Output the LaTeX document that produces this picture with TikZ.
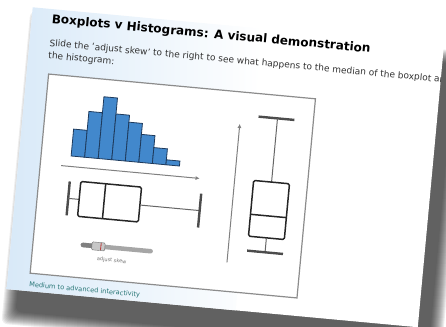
\documentclass[tikz,border=0pt]{standalone}
\usepackage{fontspec}
\setmainfont{DejaVu Sans}
\usepackage{tikz}
\usetikzlibrary{arrows.meta}
\definecolor{PageBlue}{RGB}{216,233,248}
\definecolor{HistBlue}{RGB}{66,136,204}
\definecolor{HistEdge}{RGB}{30,58,92}
\definecolor{LinkTeal}{RGB}{40,118,118}

\begin{document}
\begin{tikzpicture}[x=1pt,y=-1pt,
  txt/.style={inner sep=0pt,anchor=base west},
  bar/.style={fill=HistBlue,draw=HistEdge,line width=0.8pt},
  bx/.style={draw=black!85,line width=1.5pt,line join=round},
  whiskcap/.style={draw=black!70,line width=2.4pt},
  whisk/.style={draw=black!60,line width=1pt},
  axis/.style={draw=black!50,line width=1pt,-{Latex[length=4pt,width=4pt]}}]
\useasboundingbox (0,0) rectangle (446,326);
\begin{scope}[shift={(32.7,7.3)},rotate=-5.3,transform shape]
% shadow of the page
\foreach \r in {0,...,13} {
   \fill[black,opacity=0.065,rounded corners=6pt] (-2+\r,4+\r) rectangle (439-\r,318-\r);
}
\fill[white] (0,0) rectangle (413,283);
\shade[left color=PageBlue,right color=white] (0,0) rectangle (230,283);
\begin{scope}
\clip (0,0) rectangle (413,283);
\node[txt,font=\bfseries\fontsize{12}{14}\selectfont] (title) at (20,14)
   {Boxplots v Histograms: A visual demonstration};
\node[txt,font=\fontsize{9}{11}\selectfont,text=black!80] (intro1) at (20,37)
   {Slide the `adjust skew' to the right to see what happens to the median of the boxplot and};
\node[txt,font=\fontsize{9}{11}\selectfont,text=black!80] (intro2) at (20,49.5)
   {the histogram:};
% panel
\draw[fill=white,draw=black!45,line width=1.2pt] (22,65) rectangle (290,265);
% histogram
\foreach \i/\h in {0/27,1/46,2/62,3/46,4/39,5/28,6/16,7/5} {
   \draw[bar] (52+\i*13.6,144.5) rectangle ++(13.6,-\h);
}
\draw[axis] (43,155) -- (182,155);
% horizontal boxplot
\draw[whiskcap] (53,170) -- (53,204);
\draw[whisk] (53,187) -- (64,187);
\draw[bx,rounded corners=1.5pt] (64,169) rectangle (125,204);
\draw[bx] (89,169) -- (89,204);
\draw[whisk] (125,187) -- (185,187);
\draw[whiskcap] (185,170) -- (185,204);
% slider
\draw[line width=4.5pt,line cap=round,black!35] (72,232) -- (140,232);
\draw[line width=4.5pt,line cap=round,black!50] (72,232) -- (84,232);
\draw[fill=black!22,draw=black!55,rounded corners=1pt] (81,228) rectangle (94,236);
\draw[red!70!black,line width=0.6pt] (90,228.5) -- (90,235.5);
\node[inner sep=0pt,font=\fontsize{5}{6}\selectfont,text=black!55] (skew) at (102,245) {adjust skew};
% vertical boxplot
\draw[axis] (217,236) -- (217,97);
\draw[whiskcap] (235,88) -- (271,88);
\draw[whisk] (254,88) -- (254,152);
\draw[bx,rounded corners=1.5pt] (236,152) rectangle (272,208);
\draw[bx] (236,186) -- (272,186);
\draw[whisk] (254,208) -- (254,222.5);
\draw[whiskcap] (236,222.5) -- (272,222.5);
\node[txt,font=\fontsize{6.6}{8}\selectfont,text=LinkTeal] (link) at (22,278.5)
   {Medium to advanced interactivity};
\end{scope}
\end{scope}
\end{tikzpicture}
\end{document}
